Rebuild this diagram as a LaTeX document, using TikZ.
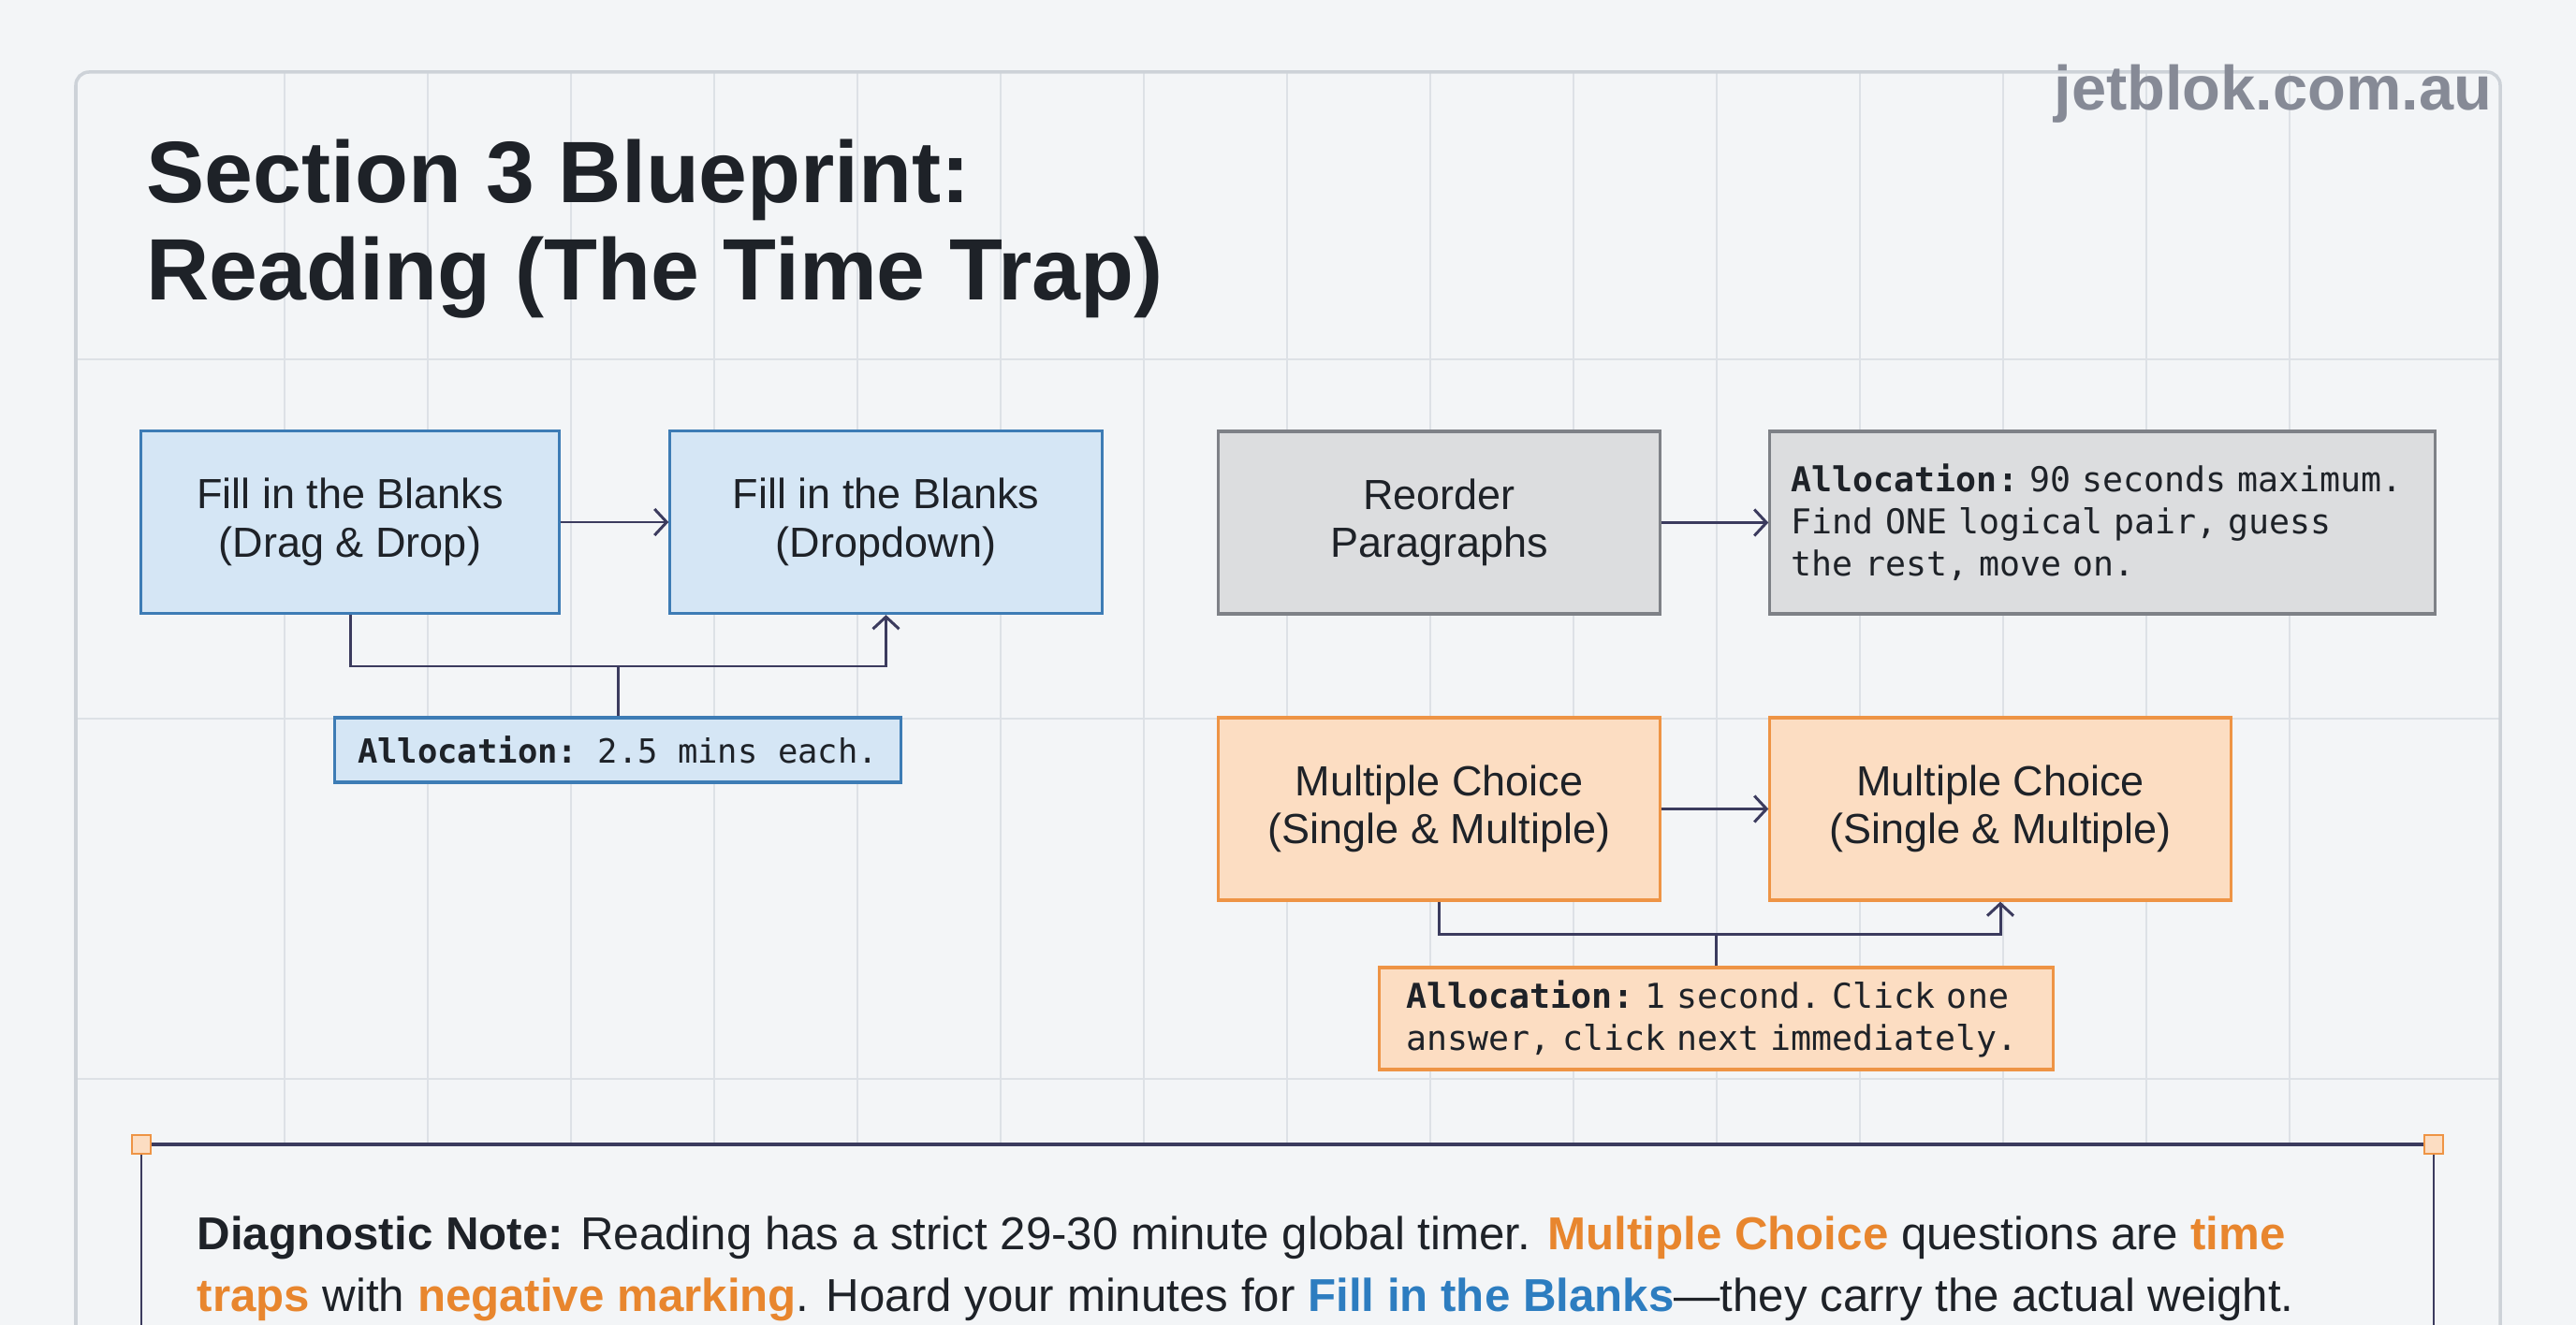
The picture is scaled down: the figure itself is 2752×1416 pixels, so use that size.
\documentclass[tikz,border=0pt]{standalone}
\usepackage{fontspec}
\setmainfont{Liberation Sans}
\newfontfamily\codefont[WordSpace={1,0,0}]{DejaVu Sans Mono}
\usetikzlibrary{arrows.meta}

\definecolor{pagebg}{HTML}{F3F5F7}
\definecolor{framec}{HTML}{CDD2D8}
\definecolor{gridc}{HTML}{DDE1E6}
\definecolor{ink}{HTML}{1E2228}
\definecolor{navy}{HTML}{3B3B5E}
\definecolor{bluefill}{HTML}{D5E6F5}
\definecolor{bluedraw}{HTML}{3D7CB5}
\definecolor{grayfill}{HTML}{DCDDDF}
\definecolor{graydraw}{HTML}{7E8187}
\definecolor{orfill}{HTML}{FCDDC2}
\definecolor{ordraw}{HTML}{EE9445}
\definecolor{ortext}{HTML}{E8862E}
\definecolor{bltext}{HTML}{2D7DC0}
\definecolor{wmark}{HTML}{868A96}

\begin{document}
\begin{tikzpicture}[x=0.01cm, y=-0.01cm,
  box/.style={draw, line width=0.9pt, minimum height=1.95cm, inner sep=0pt,
              align=center, text=ink, font=\fontsize{12.8}{14.7}\selectfont},
  fib/.style={box, fill=bluefill, draw=bluedraw},
  rop/.style={box, fill=grayfill, draw=graydraw},
  mcq/.style={box, fill=orfill, draw=ordraw},
  alloc/.style={draw, line width=0.9pt, inner ysep=0pt, align=left, text=ink,
                font=\codefont\fontsize{10.4}{12.8}\selectfont\frenchspacing},
  link/.style={draw=navy, line width=0.85pt},
  grid/.style={draw=gridc, line width=0.6pt},
  handle/.style={draw=ordraw, fill=orfill, line width=0.6pt, minimum size=0.2cm, inner sep=0pt},
  >={Straight Barb[length=1.3mm, width=2.8mm]}]

% page and frame
\useasboundingbox (0,0) rectangle (2752,1416);
\fill[pagebg] (0,0) rectangle (2752,1416);
\foreach \i in {0,...,14}
  \draw[grid] ({304+153*\i},77) -- ({304+153*\i},1416);
\foreach \gy in {384,768,1153}
  \draw[grid] (81,\gy) -- (2671,\gy);
\draw[framec, line width=1pt, rounded corners=4pt] (81,1416) -- (81,77) -- (2671,77) -- (2671,1416);

% title + mark
\node[anchor=base west, inner sep=0pt, align=left, text=ink,
      font=\bfseries\fontsize{26.5}{29.8}\selectfont] (ttl) at (156,321)
  {Section 3 Blueprint:\\Reading (The Time Trap)};
\node[anchor=base east, inner sep=0pt, text=wmark,
      font=\bfseries\fontsize{19}{22}\selectfont] (wm) at (2663,118) {jetblok.com.au};

% fill in the blanks
\node[fib, minimum width=4.46cm] (fd) at (374,558) {Fill in the Blanks\\(Drag \& Drop)};
\node[fib, minimum width=4.61cm] (fdd) at (946.5,558) {Fill in the Blanks\\(Dropdown)};
\node[alloc, fill=bluefill, draw=bluedraw, minimum width=6.04cm, minimum height=0.69cm,
      inner xsep=0.23cm, font=\codefont\fontsize{10.1}{12.8}\selectfont\frenchspacing] (fa) at (660,801.5)
  {\textbf{Allocation:} 2.5 mins each.};
\coordinate (ja) at (660,712);
\draw[link, ->] (fd) -- (fdd);
\draw[link, ->] (fd.south) |- (ja) -| (fdd.south);
\draw[link] (fa.north) -- (ja);

% reorder paragraphs
\node[rop, minimum width=4.71cm] (ro) at (1537.5,558.5) {Reorder\\Paragraphs};
\node[alloc, fill=grayfill, draw=graydraw, minimum height=1.95cm, text width=6.64cm,
      inner xsep=0.23cm] (roa) at (2246,558.5)
  {\textbf{Allocation:} 90 seconds maximum.\\Find ONE logical pair, guess\\the rest, move on.};
\draw[link, ->] (ro) -- (roa);

% multiple choice
\node[mcq, minimum width=4.71cm] (mc1) at (1537.5,864.5) {Multiple Choice\\(Single \& Multiple)};
\node[mcq, minimum width=4.92cm] (mc2) at (2137,864.5) {Multiple Choice\\(Single \& Multiple)};
\node[alloc, fill=orfill, draw=ordraw, minimum height=1.09cm, text width=6.61cm,
      inner xsep=0.29cm] (ma) at (1833.5,1088.5)
  {\textbf{Allocation:} 1 second. Click one\\answer, click next immediately.};
\coordinate (jb) at (1833.5,998);
\draw[link, ->] (mc1) -- (mc2);
\draw[link, ->] (mc1.south) |- (jb) -| (mc2.south);
\draw[link] (ma.north) -- (jb);

% diagnostic note
\fill[pagebg] (151,1223) rectangle (2600,1416);
\draw[navy, line width=0.6pt] (151,1223) -- (151,1416) (2600,1223) -- (2600,1416);
\node[handle] (hl) at (151,1223) {};
\node[handle] (hr) at (2600,1223) {};
\draw[navy, line width=1.4pt] (hl) -- (hr);
\node[anchor=base west, inner sep=0pt, align=left, text=ink,
      font=\fontsize{14}{18.6}\selectfont] (note) at (210,1401)
  {\textbf{Diagnostic Note:} Reading has a strict 29-30 minute global timer.
   \textcolor{ortext}{\textbf{Multiple Choice}} questions are \textcolor{ortext}{\textbf{time}}\\
   \textcolor{ortext}{\textbf{traps}} with \textcolor{ortext}{\textbf{negative marking}}.
   Hoard your minutes for \textcolor{bltext}{\textbf{Fill in the Blanks}}---they carry the actual weight.};
\end{tikzpicture}
\end{document}
